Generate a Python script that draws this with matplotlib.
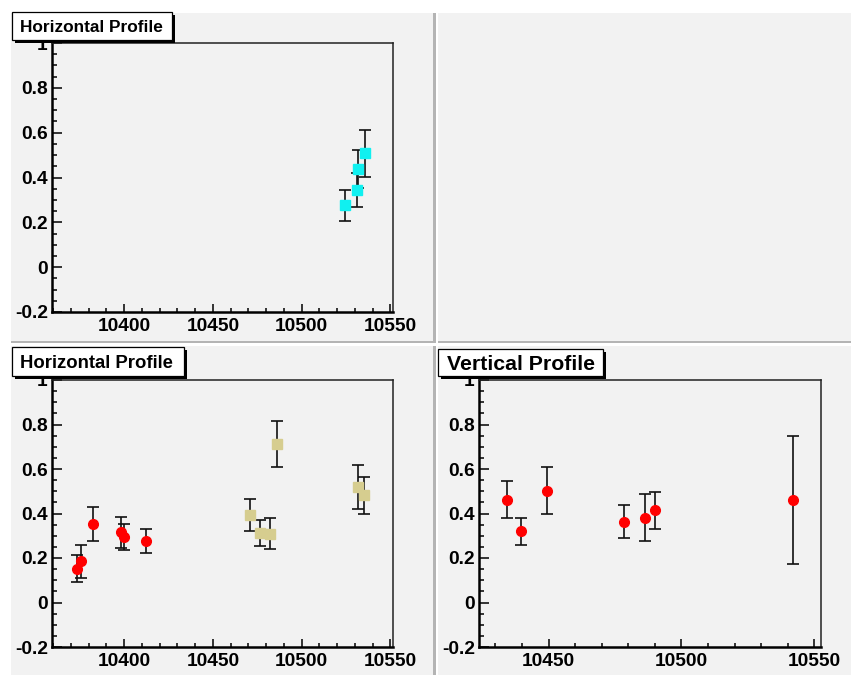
import numpy as np
import matplotlib
matplotlib.use('Agg')
import matplotlib.pyplot as plt
from matplotlib.patches import Rectangle
from matplotlib.ticker import MultipleLocator

plt.rcParams['font.family'] = ['Liberation Sans', 'DejaVu Sans']
plt.rcParams['font.weight'] = 'bold'

W, H = 851, 675

# top left: horizontal profile
h1_x = [10524.6, 10531.1, 10531.7, 10535.8]
h1_y = [0.276, 0.343, 0.437, 0.508]
h1_err = [0.069, 0.075, 0.085, 0.105]

# bottom left: horizontal profile, two sets
h2a_x = [10373.4, 10375.9, 10382.7, 10398.5, 10399.8, 10412.6]
h2a_y = [0.152, 0.185, 0.353, 0.315, 0.295, 0.275]
h2a_err = [0.060, 0.073, 0.078, 0.070, 0.057, 0.054]
h2b_x = [10471.0, 10476.3, 10482.3, 10486.1, 10531.6, 10535.0]
h2b_y = [0.393, 0.314, 0.310, 0.713, 0.519, 0.481]
h2b_err = [0.072, 0.058, 0.070, 0.102, 0.098, 0.083]

# bottom right: vertical profile
v_x = [10434.5, 10439.5, 10449.4, 10478.2, 10486.2, 10490.2, 10541.8]
v_y = [0.461, 0.321, 0.503, 0.363, 0.381, 0.414, 0.460]
v_err = [0.083, 0.061, 0.105, 0.073, 0.106, 0.083, 0.287]

yticks = [-0.2, 0, 0.2, 0.4, 0.6, 0.8, 1.0]
ylabels = ['-0.2', '0', '0.2', '0.4', '0.6', '0.8', '1']

fig = plt.figure(figsize=(W / 100, H / 100), dpi=100)
fig.patch.set_facecolor('white')


def frect(x0, y0, x1, y1):
    # pixel box (y from top) -> figure coords
    return (x0 / W, 1 - y1 / H, (x1 - x0) / W, (y1 - y0) / H)


def pad(x0, y0, x1, y1, right=True, bottom=True):
    l, b, w, h = frect(x0, y0, x1, y1)
    fig.patches.append(Rectangle((l, b), w, h, transform=fig.transFigure,
                                 facecolor='#f2f2f2', edgecolor='none', zorder=-3))
    if right:
        l, b, w, h = frect(x1, y0, x1 + 2.5, y1 + 2.5)
        fig.patches.append(Rectangle((l, b), w, h, transform=fig.transFigure,
                                     facecolor='#b4b4b4', edgecolor='none', zorder=-3))
    if bottom:
        l, b, w, h = frect(x0, y1, x1 + 2.5, y1 + 2.5)
        fig.patches.append(Rectangle((l, b), w, h, transform=fig.transFigure,
                                     facecolor='#b4b4b4', edgecolor='none', zorder=-3))


pad(11, 13, 433, 341)
pad(438, 13, 851, 341, right=False)
pad(11, 346, 433, 675)
pad(438, 346, 851, 675, right=False, bottom=False)


def title_box(x0, y0, x1, y1, text, size):
    l, b, w, h = frect(x0 + 3, y0 + 3, x1 + 3, y1 + 3)
    fig.patches.append(Rectangle((l, b), w, h, transform=fig.transFigure,
                                 facecolor='black', edgecolor='none', zorder=5))
    l, b, w, h = frect(x0, y0, x1, y1)
    fig.patches.append(Rectangle((l, b), w, h, transform=fig.transFigure,
                                 facecolor='white', edgecolor='black', lw=0.9, zorder=6))
    fig.text((x0 + 8.5) / W, 1 - (y0 + y1) / 2 / H, text, fontsize=size,
             fontweight='bold', ha='left', va='center_baseline', zorder=7)


def make_axes(x0, y0, x1, y1, xlim, xmajor):
    ax = fig.add_axes(frect(x0, y0, x1, y1))
    ax.set_facecolor('#f2f2f2')
    ax.set_xlim(*xlim)
    ax.set_ylim(-0.2, 1.0)
    ax.set_xticks(xmajor)
    ax.set_xticklabels([str(v) for v in xmajor])
    ax.xaxis.set_minor_locator(MultipleLocator(10))
    ax.set_yticks(yticks)
    ax.set_yticklabels(ylabels)
    ax.yaxis.set_minor_locator(MultipleLocator(0.05))
    ax.tick_params(axis='both', which='both', direction='in', labelsize=13.8,
                   width=1.1, color='black', top=False, right=False)
    ax.tick_params(axis='x', which='major', length=6, pad=4)
    ax.tick_params(axis='x', which='minor', length=3)
    ax.tick_params(axis='y', which='major', length=7.5, pad=3)
    ax.tick_params(axis='y', which='minor', length=3.8)
    for lab in ax.get_xticklabels() + ax.get_yticklabels():
        lab.set_fontweight('bold')
    for s in ['left', 'bottom']:
        ax.spines[s].set_linewidth(1.8)
    for s in ['top', 'right']:
        ax.spines[s].set_linewidth(1.1)
        ax.spines[s].set_color('#222222')
    return ax


ebkw = dict(fmt='none', ecolor='#111111', elinewidth=1.2, capsize=4.2, capthick=1.2)

ax1 = make_axes(52, 43, 393, 312, (10359.4, 10551.5), [10400, 10450, 10500, 10550])
ax1.errorbar(h1_x, h1_y, yerr=h1_err, **ebkw)
ax1.plot(h1_x, h1_y, 's', color='#10f0f0', ms=6.8, mec='#10f0f0', zorder=3)

ax2 = make_axes(52, 380, 393, 647, (10359.4, 10551.5), [10400, 10450, 10500, 10550])
ax2.errorbar(h2a_x, h2a_y, yerr=h2a_err, **ebkw)
ax2.errorbar(h2b_x, h2b_y, yerr=h2b_err, **ebkw)
ax2.plot(h2a_x, h2a_y, 'o', color='#ff0000', ms=7, mec='#ff0000', zorder=3)
ax2.plot(h2b_x, h2b_y, 's', color='#d6cd8f', ms=7, mec='#d6cd8f', zorder=3)

ax3 = make_axes(479, 380, 821, 647, (10423.8, 10552.5), [10450, 10500, 10550])
ax3.errorbar(v_x, v_y, yerr=v_err, **ebkw)
ax3.plot(v_x, v_y, 'o', color='#ff0000', ms=7, mec='#ff0000', zorder=3)

title_box(11.7, 12.3, 172.3, 40, 'Horizontal Profile', 12.4)
title_box(11.7, 347.3, 184.3, 376, 'Horizontal Profile', 13.3)
title_box(438.3, 349, 602.7, 376, 'Vertical Profile', 15.3)

fig.savefig('out.png', dpi=100)
